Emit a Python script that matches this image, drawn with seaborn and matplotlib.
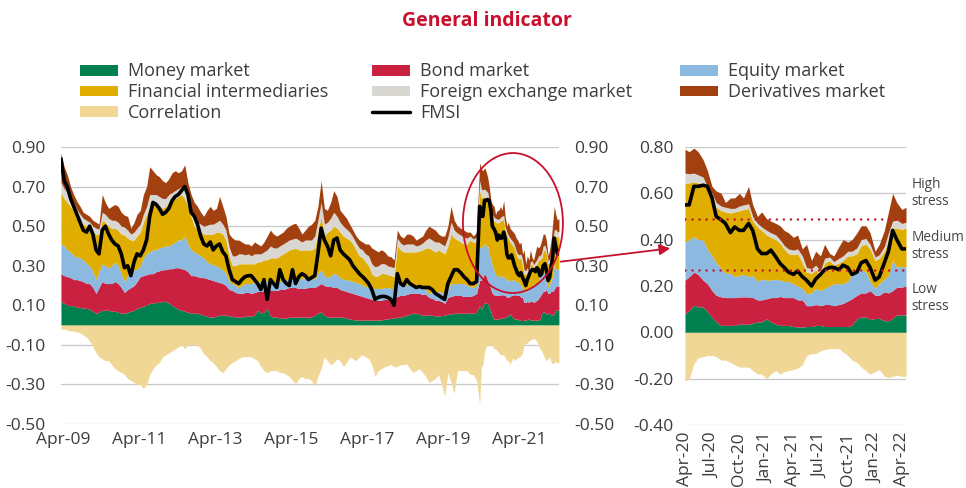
import numpy as np
import pandas as pd
import seaborn as sns
import matplotlib.pyplot as plt
from matplotlib.patches import Ellipse, Patch, FancyArrowPatch
from matplotlib.lines import Line2D
from matplotlib.ticker import FuncFormatter

# contributions to the FMSI
# monthly (mid-month) Mar-09 .. Mar-20, then twice a month Apr-20 .. Apr-22
money = [
    .12, .11, .10, .10, .095, .09, .09, .085, .085, .08,
    .07, .06, .065, .075, .075, .075, .07, .07, .065, .06, .06, .065,
    .07, .075, .085, .09, .095, .10, .11, .11, .115, .115, .12, .12,
    .11, .10, .09, .08, .075, .07, .065, .06, .06, .06, .055, .05,
    .045, .04, .04, .045, .05, .05, .05, .045, .045, .04, .04, .04,
    .045, .045, .045, .05, .075, .06, .065, .085, .045, .04, .04, .035,
    .035, .035, .04, .04, .04, .04, .04, .04, .04, .04, .05, .06,
    .067, .05, .04, .04, .04, .04, .04, .04, .035, .03, .028, .025,
    .025, .025, .025, .025, .025, .025, .025, .026, .03, .03, .035, .035,
    .04, .04, .045, .05, .055, .06, .06, .055, .05, .05, .05, .05,
    .045, .045, .048, .05, .055, .055, .06, .06, .06, .06, .06, .06,
    .06, .065, .10,
    .08, .095, .117, .11, .11, .09, .065, .045, .03, .03, .03, .03, .035,
    .035, .035, .04, .045, .045, .058, .045, .035, .03, .03, .03, .025,
    .023, .023, .025, .025, .03, .03, .025, .025, .025, .025, .025, .025, .03,
    .06, .066, .066, .055, .06, .06, .05, .05, .06, .075, .075, .075,
]
bond = [
    .14, .14, .145, .14, .135, .14, .135, .135, .125, .13,
    .12, .10, .125, .145, .135, .135, .14, .15, .145, .13, .105, .115,
    .12, .125, .135, .155, .155, .155, .15, .15, .155, .16, .16, .16,
    .175, .185, .20, .21, .21, .21, .205, .19, .19, .185, .185, .19,
    .19, .19, .185, .175, .165, .16, .15, .135, .13, .125, .12, .12,
    .12, .12, .115, .115, .095, .11, .11, .09, .13, .135, .135, .145,
    .145, .15, .15, .15, .15, .145, .145, .147, .15, .15, .14, .14,
    .143, .15, .155, .155, .15, .15, .14, .135, .135, .135, .132, .13,
    .125, .12, .115, .11, .105, .10, .10, .10, .10, .10, .095, .095,
    .105, .11, .105, .105, .105, .10, .10, .105, .105, .105, .09, .085,
    .081, .08, .072, .06, .085, .09, .09, .09, .09, .085, .085, .085,
    .09, .095, .127,
    .145, .145, .143, .14, .115, .12, .115, .115, .123, .12, .12, .12, .118,
    .118, .118, .11, .095, .095, .087, .105, .115, .125, .12, .12, .125,
    .117, .117, .09, .09, .09, .085, .095, .095, .09, .095, .10, .11, .115,
    .10, .104, .104, .125, .10, .10, .125, .12, .12, .12, .12, .125,
]
equity = [
    .15, .15, .135, .13, .12, .115, .115, .11, .10, .09,
    .08, .07, .08, .09, .09, .08, .09, .10, .09, .07, .055, .07,
    .08, .08, .06, .055, .09, .105, .11, .12, .11, .115, .115, .12,
    .115, .125, .13, .14, .145, .17, .14, .13, .12, .115, .11, .10,
    .085, .08, .08, .08, .075, .07, .06, .04, .035, .035, .03, .04,
    .045, .045, .05, .05, .05, .05, .055, .045, .05, .045, .045, .04,
    .045, .045, .04, .045, .045, .05, .05, .053, .055, .055, .04, .06,
    .07, .05, .045, .055, .07, .065, .06, .055, .06, .06, .06, .06,
    .06, .055, .055, .055, .06, .06, .06, .06, .06, .06, .055, .055,
    .075, .06, .06, .05, .04, .04, .04, .035, .035, .025, .015, .04,
    .044, .045, .045, .05, .04, .065, .06, .06, .06, .065, .055, .05,
    .04, .04, .168,
    .165, .16, .153, .15, .175, .15, .15, .14, .122, .105, .105, .09, .092,
    .097, .087, .095, .08, .09, .08, .075, .08, .07, .07, .07, .06,
    .06, .05, .052, .055, .07, .065, .07, .08, .095, .09, .085, .085, .105,
    .10, .10, .09, .04, .03, .05, .055, .075, .13, .085, .09, .08,
]
fin_interm = [
    .26, .24, .24, .23, .23, .205, .18, .18, .19, .19,
    .20, .23, .19, .22, .22, .21, .19, .17, .18, .20, .235, .19,
    .16, .15, .17, .17, .18, .20, .23, .23, .23, .21, .195, .20,
    .22, .22, .22, .22, .23, .19, .19, .17, .13, .12, .12, .12,
    .14, .15, .155, .17, .18, .18, .17, .13, .09, .10, .12, .11,
    .10, .10, .10, .095, .10, .10, .10, .11, .115, .12, .12, .13,
    .135, .14, .15, .15, .155, .145, .145, .14, .135, .135, .16, .21,
    .27, .20, .23, .23, .24, .235, .23, .22, .21, .205, .19, .165,
    .14, .14, .125, .11, .07, .06, .065, .075, .07, .065, .065, .06,
    .18, .17, .16, .165, .17, .17, .17, .18, .19, .21, .235, .205,
    .20, .21, .205, .20, .22, .25, .23, .22, .21, .20, .21, .235,
    .23, .22, .285,
    .254, .245, .237, .245, .24, .25, .25, .24, .25, .265, .26, .28, .28,
    .28, .295, .235, .235, .21, .195, .185, .17, .16, .14, .12, .125,
    .14, .11, .093, .085, .08, .065, .11, .11, .08, .09, .10, .11, .08,
    .08, .105, .12, .14, .12, .11, .12, .155, .14, .17, .16, .17,
]
fx = [
    .05, .05, .05, .04, .04, .035, .04, .03, .03, .03,
    .03, .03, .025, .04, .04, .04, .04, .04, .04, .04, .04, .04,
    .03, .04, .04, .04, .04, .04, .06, .05, .05, .05, .05, .04,
    .04, .04, .04, .04, .04, .05, .05, .04, .04, .04, .04, .04,
    .045, .05, .05, .05, .06, .05, .05, .045, .05, .05, .05, .05,
    .045, .05, .04, .05, .04, .04, .04, .05, .06, .05, .05, .05,
    .05, .05, .05, .05, .05, .05, .04, .05, .05, .05, .06, .06,
    .07, .06, .05, .06, .07, .06, .05, .05, .045, .04, .035, .035,
    .04, .04, .04, .05, .05, .05, .05, .05, .05, .045, .045, .045,
    .04, .035, .035, .04, .04, .04, .03, .03, .035, .04, .05, .05,
    .05, .04, .04, .04, .045, .06, .04, .035, .035, .035, .03, .02,
    .015, .025, .05,
    .043, .04, .037, .035, .03, .02, .02, .02, .02, .02, .02, .015, .02,
    .02, .02, .02, .015, .015, .02, .02, .02, .015, .015, .02, .02,
    .02, .03, .02, .02, .02, .02, .02, .015, .015, .02, .02, .02, .02,
    .025, .025, .025, .02, .015, .015, .02, .03, .03, .035, .025, .025,
]
derivatives = [
    .15, .11, .09, .06, .04, .04, .04, .03, .03, .03,
    .03, .03, .025, .09, .06, .05, .07, .08, .08, .07, .06, .07,
    .03, .05, .07, .07, .10, .10, .14, .12, .10, .10, .09, .08,
    .08, .10, .10, .08, .08, .12, .07, .07, .08, .08, .06, .05,
    .075, .09, .07, .07, .12, .09, .07, .065, .09, .08, .07, .06,
    .055, .05, .05, .06, .05, .04, .05, .07, .08, .07, .06, .06,
    .06, .07, .07, .075, .075, .06, .04, .05, .07, .08, .08, .07,
    .11, .08, .06, .08, .11, .10, .06, .06, .055, .04, .035, .035,
    .04, .04, .05, .06, .08, .085, .07, .07, .06, .05, .05, .04,
    .04, .035, .035, .05, .05, .04, .03, .035, .035, .05, .06, .06,
    .06, .04, .04, .05, .055, .08, .05, .035, .035, .035, .03, .02,
    .015, .025, .09,
    .103, .095, .108, .10, .075, .07, .03, .05, .055, .02, .045, .045, .055,
    .03, .075, .05, .03, .065, .05, .05, .05, .06, .065, .07, .055,
    .06, .03, .10, .035, .06, .065, .06, .015, .025, .05, .07, .04, .05,
    .065, .06, .055, .05, .025, .045, .07, .09, .12, .075, .06, .065,
]
correlation = [
    -.02, -.02, -.025, -.03, -.03, -.035, -.04, -.05, -.06, -.08,
    -.11, -.14, -.16, -.17, -.18, -.18, -.20, -.22, -.23, -.24, -.25, -.27,
    -.28, -.29, -.30, -.30, -.32, -.30, -.25, -.22, -.20, -.19, -.16, -.15,
    -.14, -.13, -.12, -.11, -.10, -.12, -.10, -.10, -.10, -.10, -.12, -.145,
    -.16, -.18, -.19, -.21, -.23, -.24, -.22, -.20, -.19, -.18, -.17, -.16,
    -.16, -.16, -.16, -.17, -.18, -.21, -.23, -.24, -.23, -.23, -.23, -.24,
    -.24, -.25, -.26, -.28, -.295, -.27, -.26, -.27, -.27, -.28, -.31, -.26,
    -.22, -.16, -.18, -.20, -.19, -.17, -.18, -.21, -.19, -.16, -.17, -.18,
    -.16, -.15, -.16, -.17, -.20, -.26, -.23, -.22, -.21, -.205, -.20, -.21,
    -.21, -.20, -.20, -.195, -.22, -.24, -.23, -.22, -.24, -.26, -.29, -.28,
    -.27, -.25, -.30, -.36, -.24, -.29, -.345, -.23, -.23, -.23, -.23, -.25,
    -.25, -.28, -.40,
    -.21, -.20, -.136, -.11, -.105, -.10, -.10, -.105, -.12, -.12, -.13, -.14, -.15,
    -.15, -.15, -.165, -.18, -.18, -.20, -.18, -.165, -.18, -.17, -.165, -.16,
    -.155, -.14, -.10, -.092, -.092, -.08, -.075, -.07, -.07, -.07, -.085, -.10, -.12,
    -.13, -.15, -.165, -.18, -.17, -.16, -.19, -.195, -.19, -.185, -.19, -.19,
]
fmsi = [
    .84, .73, .70, .64, .60, .56, .52, .48, .47, .50,
    .46, .38, .36, .48, .50, .46, .43, .41, .40, .36, .29, .30,
    .25, .32, .36, .35, .38, .43, .55, .62, .61, .59, .56, .57,
    .59, .63, .65, .66, .68, .70, .66, .57, .55, .51, .45, .41,
    .40, .42, .38, .40, .41, .37, .35, .28, .23, .22, .21, .23,
    .245, .25, .25, .23, .21, .18, .23, .13, .23, .21, .19, .28,
    .23, .21, .20, .28, .21, .245, .26, .25, .23, .24, .25, .36,
    .49, .43, .40, .35, .43, .44, .38, .36, .345, .33, .30, .28,
    .26, .245, .23, .21, .18, .13, .14, .145, .145, .14, .13, .10,
    .26, .21, .20, .23, .21, .20, .19, .195, .19, .19, .19, .18,
    .16, .15, .14, .13, .21, .245, .28, .28, .265, .245, .23, .21,
    .21, .22, .60,
    .55, .55, .63, .63, .635, .63, .58, .50, .485, .47, .43, .455, .44,
    .44, .47, .44, .36, .34, .34, .355, .325, .297, .28, .26, .25,
    .265, .24, .225, .20, .23, .25, .27, .28, .28, .27, .29, .28, .25,
    .26, .30, .31, .28, .225, .24, .30, .35, .44, .40, .36, .36,
]

left_ticks = ["Apr-09", "Apr-11", "Apr-13", "Apr-15", "Apr-17", "Apr-19", "Apr-21"]
right_ticks = ["Apr-20", "Jul-20", "Oct-20", "Jan-21", "Apr-21",
               "Jul-21", "Oct-21", "Jan-22", "Apr-22"]
stress_levels = [0.49, 0.27]
stress_labels = ["High\nstress", "Medium\nstress", "Low\nstress"]
stress_label_y = [0.60, 0.372, 0.147]

dates = (pd.date_range("2009-03-01", periods=133, freq="MS") + pd.Timedelta(days=14)).append(
    pd.date_range("2020-04-01", "2022-04-15", freq="SMS"))

df = pd.DataFrame({"date": dates, "money": money, "bond": bond, "equity": equity,
                   "fin": fin_interm, "fx": fx, "deriv": derivatives,
                   "corr": correlation, "fmsi": fmsi})

parts = ["money", "bond", "equity", "fin", "fx", "deriv"]
colors = {"money": "#00804f", "bond": "#c9213f", "equity": "#8cb9e0",
          "fin": "#dfae00", "fx": "#d8d7d1", "deriv": "#a2410f",
          "corr": "#f1d795"}
red = "#c8102e"
txt = "#3c3c3c"

sns.set_style("white")
plt.rcParams["font.family"] = ["Open Sans", "DejaVu Sans"]

fig = plt.figure(figsize=(9.66, 4.88), dpi=100)
ax1 = fig.add_axes([0.0631, 0.1311, 0.5155, 0.5676])
ax2 = fig.add_axes([0.7091, 0.1291, 0.2288, 0.5697])


def draw(ax, d):
    ax.stackplot(d["date"], *[d[p] for p in parts],
                 colors=[colors[p] for p in parts], lw=0)
    ax.fill_between(d["date"], d["corr"], 0, color=colors["corr"], lw=0)
    sns.lineplot(data=d, x="date", y="fmsi", ax=ax, color="black", lw=2.6, zorder=5)
    ax.set(xlabel="", ylabel="")
    ax.set_xlim(d["date"].iloc[0], d["date"].iloc[-1])
    ax.grid(axis="y", color="#c8c8c8", lw=0.9)
    ax.grid(axis="x", visible=False)
    ax.set_axisbelow(True)
    sns.despine(ax=ax, left=True, bottom=True)
    ax.yaxis.set_major_formatter(FuncFormatter(lambda v, _: f"{v:.2f}"))
    ax.tick_params(length=0, labelsize=12.5, colors=txt)


# whole period
draw(ax1, df)
ax1.set_ylim(-0.5, 0.9)
ax1.set_yticks(np.round(np.arange(-0.5, 0.91, 0.2), 2))
ax1.set_xticks(pd.to_datetime(left_ticks, format="%b-%y"))
ax1.set_xticklabels(left_ticks)
ax1.tick_params(axis="y", labelright=True, pad=11)
ax1.tick_params(axis="x", pad=6)

# zoom on the last two years
zoom = df[df["date"] >= "2020-04-01"].reset_index(drop=True)
draw(ax2, zoom)
ax2.set_ylim(-0.4, 0.8)
ax2.set_yticks(np.round(np.arange(-0.4, 0.81, 0.2), 2))
ax2.set_xticks(pd.to_datetime(right_ticks, format="%b-%y"))
ax2.set_xticklabels(right_ticks, rotation=90)
ax2.tick_params(axis="y", pad=8)
ax2.tick_params(axis="x", pad=5)

for lvl in stress_levels:
    ax2.axhline(lvl, color=red, lw=1.8, ls=(0, (0.01, 2.8)),
                dash_capstyle="round", zorder=6)
for lab, yy in zip(stress_labels, stress_label_y):
    ax2.text(1.025, yy, lab, transform=ax2.get_yaxis_transform(), ha="left",
             va="center", fontsize=9.8, color="#444444", linespacing=1.15)

ax1.add_patch(Ellipse((0.9076, 0.7256), 0.2008, 0.5054, transform=ax1.transAxes,
                      fill=False, ec=red, lw=1.3, clip_on=False, zorder=7))
fig.add_artist(FancyArrowPatch((558 / 966, 1 - 262 / 488), (673 / 966, 1 - 248 / 488),
                               transform=fig.transFigure, arrowstyle="-|>",
                               mutation_scale=16, color=red, lw=1.3))

fig.text(0.504, 0.957, "General indicator", ha="center", va="center",
         color=red, fontsize=14, fontweight="bold")

# legend, three columns placed separately
def box(c):
    return Patch(facecolor=colors[c], edgecolor="none")

columns = [
    ([box("money"), box("fin"), box("corr")],
     ["Money market", "Financial intermediaries", "Correlation"], 80),
    ([box("bond"), box("fx"), Line2D([], [], color="black", lw=2.5)],
     ["Bond market", "Foreign exchange market", "FMSI"], 372),
    ([box("equity"), box("deriv")], ["Equity market", "Derivatives market"], 680),
]
for handles, labels, xpx in columns:
    fig.legend(handles, labels, loc="upper left", bbox_to_anchor=(xpx / 966, 0.872),
               frameon=False, fontsize=13, borderpad=0, borderaxespad=0,
               handlelength=2.1, handleheight=0.55, handletextpad=0.55,
               labelspacing=0.16, labelcolor=txt)

fig.savefig("out.png", dpi=100)
